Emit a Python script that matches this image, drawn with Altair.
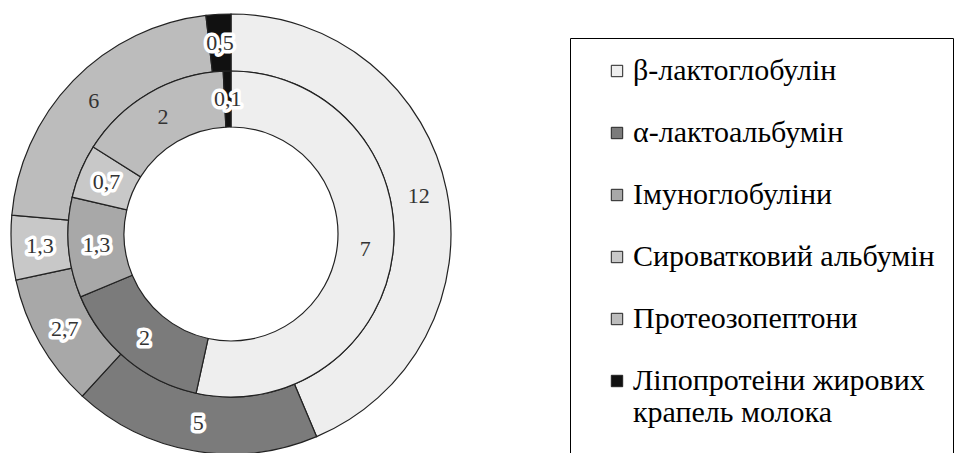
import altair as alt
import pandas as pd

# Whey protein composition, two concentric rings
proteins = [
    "β-лактоглобулін",
    "α-лактоальбумін",
    "Імуноглобуліни",
    "Сироватковий альбумін",
    "Протеозопептони",
    "Ліпопротеіни жирових крапель молока",
]
outer_values = [12, 5, 2.7, 1.3, 6, 0.5]
inner_values = [7, 2, 1.3, 0.7, 2, 0.1]
fills = ["#eeeeee", "#7b7b7b", "#a8a8a8", "#c8c8c8", "#bcbcbc", "#111111"]

SERIF = "Times New Roman, Liberation Serif, DejaVu Serif, Noto Serif"


def ring_frame(values):
    return pd.DataFrame({
        "protein": proteins,
        "value": values,
        "order": list(range(len(proteins))),
        "label": [f"{v:g}".replace(".", ",") for v in values],
    })


color = alt.Color(
    "protein:N",
    sort=proteins,
    scale=alt.Scale(domain=proteins, range=fills),
    legend=alt.Legend(
        title=None,
        orient="none",
        legendX=570,
        legendY=23,
        symbolType="square",
        symbolSize=130,
        symbolStrokeColor="#222222",
        symbolStrokeWidth=1,
        symbolOffset=14,
        labelFont=SERIF,
        labelFontSize=30,
        labelColor="black",
        labelLimit=0,
        labelOffset=1,
        rowPadding=32,
        padding=18,
        strokeColor="black",
        labelExpr="datum.label == 'Ліпопротеіни жирових крапель молока' ? "
                  "['Ліпопротеіни жирових', 'крапель молока', ' '] : datum.label",
    ),
)

theta = alt.Theta("value:Q", stack="normalize")
order = alt.Order("order:Q")
boxed = "datum.order != 0 && datum.order != 4"


def ring(values, r_out, r_in):
    base = alt.Chart(ring_frame(values)).encode(theta=theta, order=order)
    arcs = base.mark_arc(radius=r_out, radius2=r_in, stroke="#222222",
                         strokeWidth=1.2).encode(color=color)
    r_mid = (r_out + r_in) / 2
    halo = base.mark_text(radius=r_mid, font=SERIF, fontSize=22,
                          stroke="white", strokeWidth=7, strokeJoin="round",
                          fill="white").encode(
        text="label:N",
        opacity=alt.condition(boxed, alt.value(1), alt.value(0)),
    )
    labels = base.mark_text(radius=r_mid, font=SERIF, fontSize=22,
                            color="#333333").encode(text="label:N")
    return arcs + halo + labels


chart = alt.layer(
    ring(outer_values, 220, 163),
    ring(inner_values, 163, 107),
).properties(
    width=462,
    height=438,
    padding={"left": 0, "top": 15, "right": 511, "bottom": 0},
    autosize=alt.AutoSizeParams(type="none"),
).configure_view(stroke=None)

chart.save("out.html", embed_options={"renderer": "svg", "actions": False})
